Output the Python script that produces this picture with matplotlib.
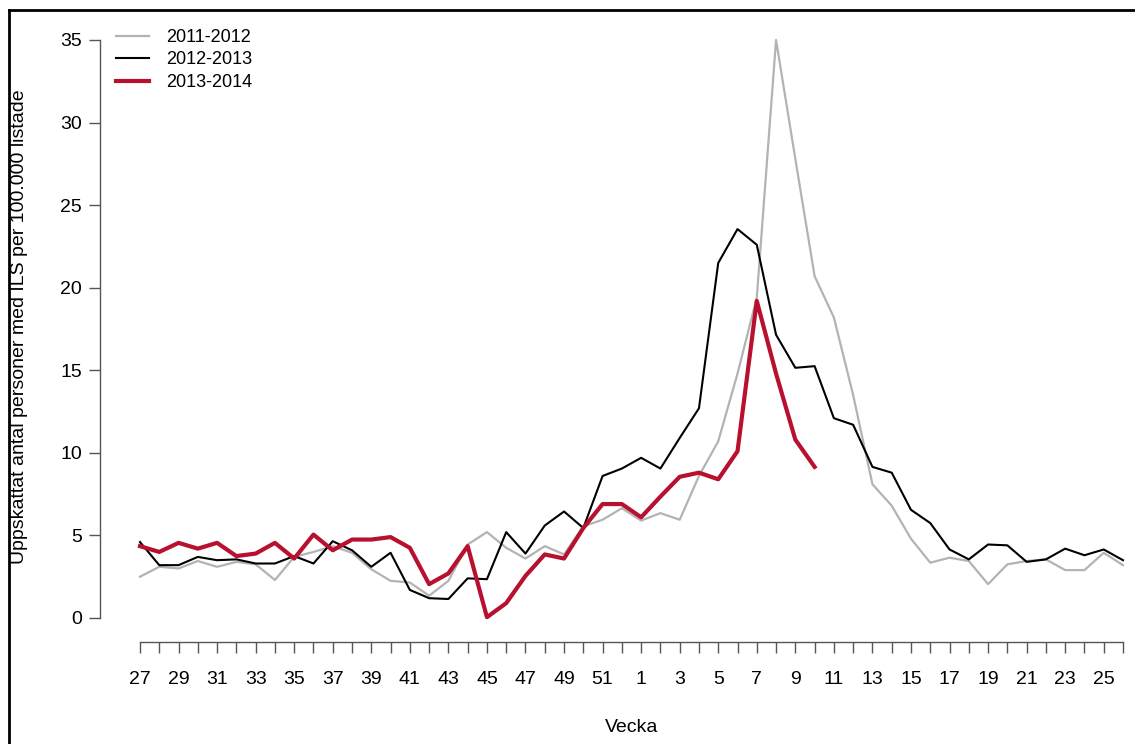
# ====================================================
# ILS per 100.000 listade, three seasons by week
# ====================================================

import numpy as np
import matplotlib
matplotlib.use("Agg")
from matplotlib import pyplot as plt
from matplotlib.lines import Line2D

plt.rcParams["font.family"] = ["Liberation Sans", "DejaVu Sans"]

# ----------------------------------------------------
# Data
# ----------------------------------------------------

weeks = list(range(27, 53)) + list(range(1, 27))

season_labels = ["2011-2012", "2012-2013", "2013-2014"]

ils_2011_2012 = [2.5, 3.1, 3.0, 3.45, 3.1, 3.4, 3.25, 2.3, 3.7, 4.0,
                 4.35, 3.95, 2.95, 2.25, 2.15, 1.35, 2.25, 4.45, 5.2, 4.25,
                 3.6, 4.35, 3.85, 5.55, 5.95, 6.65,
                 5.9, 6.35, 5.95, 8.6, 10.7, 14.8, 19.4, 35.0, 27.8, 20.7,
                 18.2, 13.5, 8.1, 6.8, 4.8, 3.35, 3.65, 3.45, 2.05, 3.25,
                 3.45, 3.55, 2.9, 2.9, 3.95, 3.2]

ils_2012_2013 = [4.6, 3.2, 3.2, 3.7, 3.5, 3.55, 3.3, 3.3, 3.75, 3.3,
                 4.65, 4.1, 3.1, 3.95, 1.7, 1.2, 1.15, 2.4, 2.35, 5.2,
                 3.9, 5.6, 6.45, 5.45, 8.6, 9.05,
                 9.7, 9.05, 10.9, 12.7, 21.5, 23.55, 22.6, 17.15, 15.15, 15.25,
                 12.1, 11.7, 9.15, 8.8, 6.55, 5.75, 4.15, 3.55, 4.45, 4.4,
                 3.4, 3.55, 4.2, 3.8, 4.15, 3.5]

ils_2013_2014 = [4.35, 4.0, 4.55, 4.2, 4.55, 3.75, 3.9, 4.55, 3.6, 5.05,
                 4.1, 4.75, 4.75, 4.9, 4.25, 2.05, 2.7, 4.35, 0.05, 0.9,
                 2.55, 3.85, 3.6, 5.45, 6.9, 6.9,
                 6.1, 7.35, 8.55, 8.8, 8.4, 10.1, 19.2, 14.8, 10.8, 9.15]

y_ticks = [0, 5, 10, 15, 20, 25, 30, 35]


def main() -> None:

    W, H = 1135, 744
    fig = plt.figure(figsize=(W / 100, H / 100), dpi=100)

    # axes box in pixels: left spine at x=100, bottom spine at y=642
    left_px, right_px, top_px, bottom_px = 100, 1135, 20, 642
    ax = fig.add_axes([left_px / W, 1 - bottom_px / H,
                       (right_px - left_px) / W, (bottom_px - top_px) / H])

    n = len(weeks)
    x = np.arange(n)

    # x: index 0 at px 140, index 51 at px 1123
    sx = (1123 - 140) / (n - 1)
    ax.set_xlim(-(140 - left_px) / sx, (n - 1) + (right_px - 1123) / sx)
    # y: 0 at px 618, 35 at px 40
    sy = (618 - 40) / 35.0
    ax.set_ylim(-(bottom_px - 618) / sy, 35 + (40 - top_px) / sy)

    # ------------------------------------------------
    # Lines
    # ------------------------------------------------
    ax.plot(x, ils_2011_2012, color="#b3b3b3", lw=1.6, label=season_labels[0],
            zorder=2)
    ax.plot(x, ils_2012_2013, color="black", lw=1.5, label=season_labels[1],
            zorder=3)
    ax.plot(x[:len(ils_2013_2014)], ils_2013_2014, color="#b8102f", lw=3.0,
            label=season_labels[2], zorder=4)

    # ------------------------------------------------
    # Axes in R base-graphics style
    # ------------------------------------------------
    for s in ["top", "right"]:
        ax.spines[s].set_visible(False)
    ax.spines["left"].set_bounds(0, 35)
    ax.spines["bottom"].set_bounds(0, n - 1)
    for s in ["left", "bottom"]:
        ax.spines[s].set_color("#555555")
        ax.spines[s].set_linewidth(1.0)

    ax.set_yticks(y_ticks)
    ax.set_yticklabels([str(v) for v in y_ticks])
    ax.set_xticks(x)
    ax.set_xticklabels([str(w) if i % 2 == 0 else "" for i, w in enumerate(weeks)])

    ax.tick_params(axis="y", length=8, width=1.0, color="#555555", pad=5,
                   labelsize=14, labelcolor="black")
    ax.tick_params(axis="x", length=8, width=1.0, color="#555555", pad=13,
                   labelsize=14, labelcolor="black")

    ax.text((n - 1) / 2, (bottom_px - 727) / (bottom_px - top_px), "Vecka",
            transform=ax.get_xaxis_transform(), ha="center", va="center",
            fontsize=14)

    fig.text(20 / W, 1 - 327 / H,
             "Uppskattat antal personer med ILS per 100.000 listade",
             rotation=90, ha="center", va="center", fontsize=14)

    # ------------------------------------------------
    # Legend
    # ------------------------------------------------
    ax.legend(loc="upper left", bbox_to_anchor=(116 / W, 1 - 29 / H),
              bbox_transform=fig.transFigure, frameon=False, fontsize=13,
              handlelength=1.85, handletextpad=0.9, labelspacing=0.3,
              borderpad=0, borderaxespad=0)

    # ------------------------------------------------
    # Outer frame (open to the right and bottom)
    # ------------------------------------------------
    fig.add_artist(Line2D([9 / W, 9 / W], [0, 1 - 10 / H],
                          transform=fig.transFigure, color="black", lw=2.0))
    fig.add_artist(Line2D([9 / W, 1], [1 - 10 / H, 1 - 10 / H],
                          transform=fig.transFigure, color="black", lw=2.0))

    fig.savefig("out.png", dpi=100)
    plt.close(fig)


if __name__ == "__main__":
    main()
